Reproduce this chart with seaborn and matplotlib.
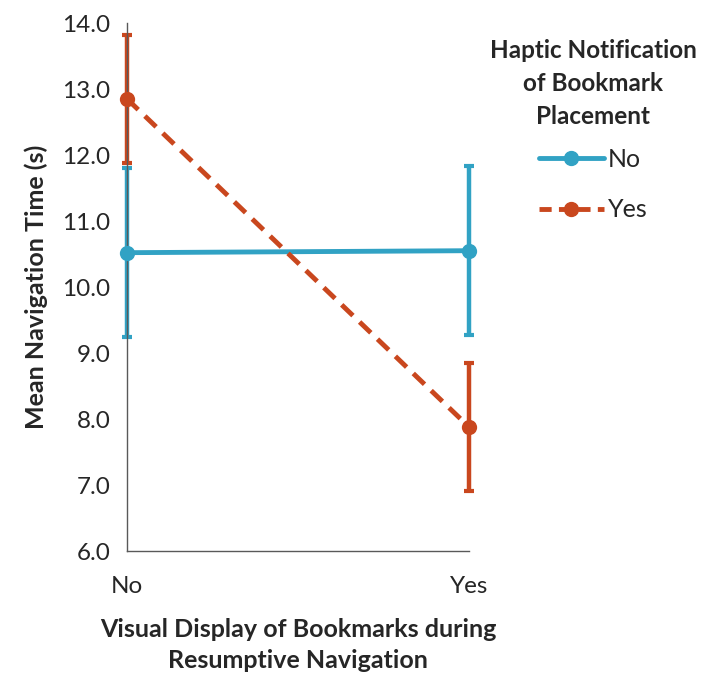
import matplotlib
matplotlib.use("Agg")
import matplotlib.pyplot as plt
import seaborn as sns
import pandas as pd
import numpy as np
from matplotlib.lines import Line2D

visual = ["No", "Yes"]
haptic = ["No", "Yes"]
mean_no = [10.52, 10.55]
mean_yes = [12.85, 7.88]
err_no = [1.28, 1.28]
err_yes = [0.97, 0.97]
colors = {"No": "#31A2C4", "Yes": "#C9471E"}

sns.set_theme(style="white")
plt.rcParams['font.family'] = ['Lato', 'DejaVu Sans']

rows = []
for i, v in enumerate(visual):
    rows.append({"x": i, "Visual": v, "Haptic": "No", "mean": mean_no[i], "err": err_no[i]})
    rows.append({"x": i, "Visual": v, "Haptic": "Yes", "mean": mean_yes[i], "err": err_yes[i]})
df = pd.DataFrame(rows)

fig = plt.figure(figsize=(7.02, 6.75), dpi=100)
ax = fig.add_axes([127/702, 1-551/675, (469-127)/702, (551-23)/675])

for h in haptic:
    sub = df[df.Haptic == h]
    ax.errorbar(sub.x, sub["mean"], yerr=sub.err, fmt="none", ecolor=colors[h],
                elinewidth=3.2, capsize=3.5, capthick=3, zorder=2, clip_on=False)

sns.lineplot(data=df, x="x", y="mean", hue="Haptic", style="Haptic",
             palette=colors, dashes={"No": "", "Yes": (3.2, 1.9)},
             markers={"No": "o", "Yes": "o"}, markersize=11, markeredgewidth=0,
             linewidth=3.5, ax=ax, legend=False, zorder=3, clip_on=False)

ax.set_xlim(0, 1)
ax.set_ylim(6, 14)
ax.set_yticks(np.arange(6, 14.01, 1.0))
ax.set_yticklabels([f"{t:.1f}" for t in np.arange(6, 14.01, 1.0)], fontsize=17.5)
ax.set_xticks([0, 1])
ax.set_xticklabels(visual, fontsize=17.5)
ax.tick_params(axis="both", direction="out", length=7, width=1, color="#595959", pad=5)
ax.tick_params(axis="x", length=10, pad=8)
for s in ["top", "right"]:
    ax.spines[s].set_visible(False)
for s in ["left", "bottom"]:
    ax.spines[s].set_color("#595959")
    ax.spines[s].set_linewidth(1)

ax.set_ylabel("Mean Navigation Time (s)", fontsize=18, fontweight="bold", labelpad=10)
ax.set_xlabel("Visual Display of Bookmarks during\nResumptive Navigation", fontsize=18,
              fontweight="bold", labelpad=15, linespacing=1.45)

handles = [Line2D([0], [0], color=colors["No"], lw=3.5, marker="o", markersize=10),
           Line2D([0], [0], color=colors["Yes"], lw=3.5, ls=(0, (2.5, 1.5)), marker="o", markersize=10)]
leg = fig.legend(handles, haptic, title="Haptic Notification\nof Bookmark\nPlacement",
                 loc="upper center", bbox_to_anchor=(593/702, 1-16/675), frameon=False,
                 fontsize=18, title_fontproperties={"weight": "bold", "size": 17.5},
                 handlelength=2.6, handletextpad=0.15, labelspacing=1.1)
leg.get_title().set_multialignment("center")
leg.get_title().set_linespacing(1.55)
leg._legend_box.sep = 14

fig.savefig("out.png", dpi=100)
